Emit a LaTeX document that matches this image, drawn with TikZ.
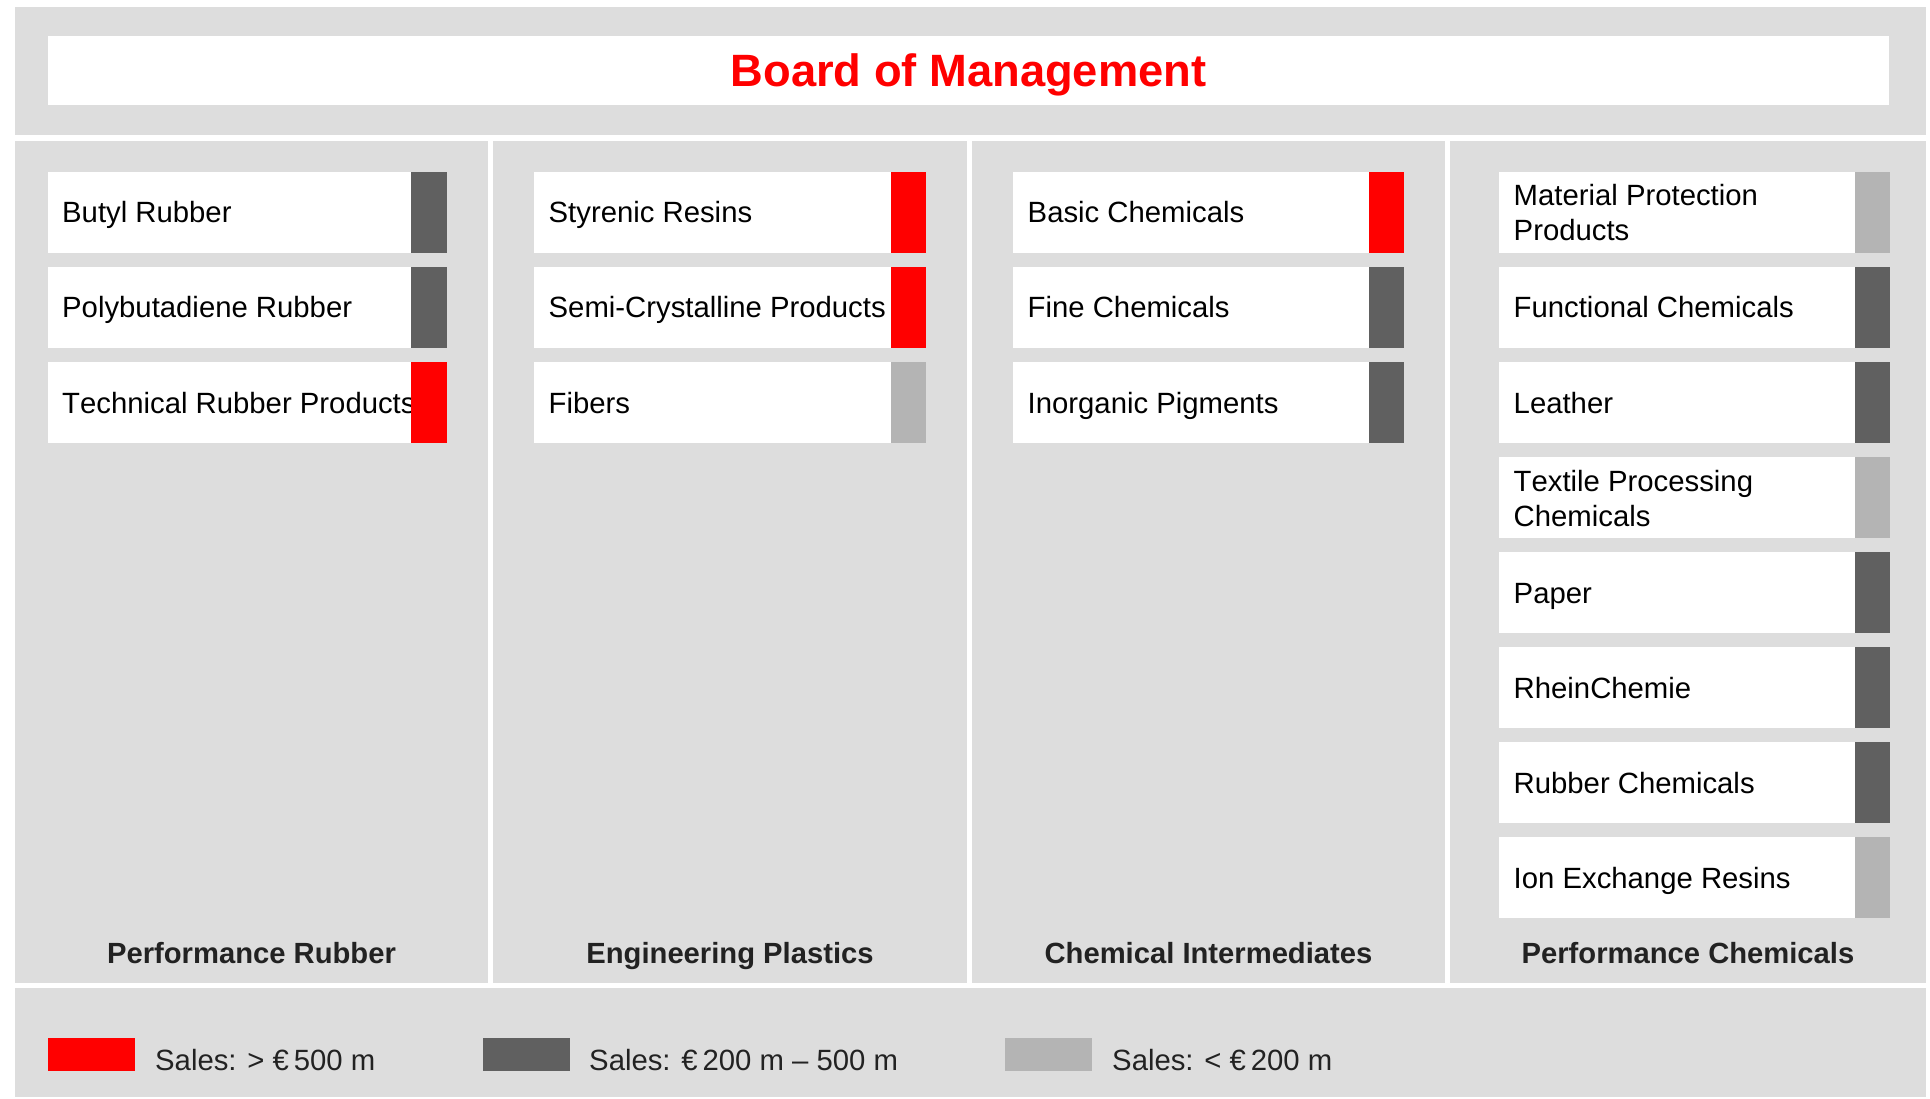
\documentclass[tikz,border=0pt]{standalone}
\usepackage{fontspec}
\setmainfont{Liberation Sans}[Kerning=Off]
\definecolor{bggray}{HTML}{DDDDDD}
\definecolor{darkbar}{HTML}{606060}
\definecolor{lightbar}{HTML}{B4B4B4}
\definecolor{brandred}{HTML}{FF0000}
\definecolor{labelgray}{HTML}{222222}
\tikzset{
  panel/.style={fill=bggray, draw=none},
  itembox/.style={rectangle, fill=white, draw=none, inner sep=0pt, minimum height=80.5pt, anchor=north west},
  salesbar/.style={rectangle, draw=none, inner sep=0pt, minimum width=35.5pt, minimum height=80.5pt, anchor=north east},
  itemtext/.style={anchor=base west, inner sep=0pt, font=\fontsize{29.3}{35}\selectfont, align=left, text=black},
  divlabel/.style={anchor=base, inner sep=0pt, font=\bfseries\fontsize{29.2}{35}\selectfont, text=labelgray},
  legbox/.style={rectangle, draw=none, inner sep=0pt, minimum width=87pt, minimum height=33pt, anchor=north west},
  legtext/.style={anchor=base west, inner sep=0pt, font=\fontsize{29.3}{35}\selectfont, text=labelgray},
}
% name, x, top, width, bar colour, baseline offset (last line), text
\newcommand\unitrow[7]{%
  \node[itembox, minimum width=#4pt] (#1) at (#2,#3) {};
  \node[itemtext] (#1t) at (#2+14.5,#3+#6) {#7};
  \node[salesbar, fill=#5] (#1b) at (#1.north east) {};
}
\begin{document}
\begin{tikzpicture}[x=1pt,y=-1pt]
\useasboundingbox[fill=white] (0,0) rectangle (1930,1099);
% panels
\fill[panel] (15,7) rectangle (1926,135);
\fill[panel] (15,141) rectangle (488,983);
\fill[panel] (493,141) rectangle (967,983);
\fill[panel] (972,141) rectangle (1445,983);
\fill[panel] (1450,141) rectangle (1926,983);
\fill[panel] (15,988) rectangle (1926,1097);
% title
\node[rectangle, fill=white, inner sep=0pt, minimum width=1841.5pt, minimum height=69pt, anchor=north west] (board) at (47.5,36) {};
\node[anchor=base, inner sep=0pt, font=\bfseries\fontsize{45.3}{54}\selectfont, text=brandred] (boardt) at (968.5,87) {Board of Management};
% column 1
\unitrow{a1}{47.5}{172}{399}{darkbar}{51}{Butyl Rubber}
\unitrow{a2}{47.5}{267}{399}{darkbar}{51}{Polybutadiene Rubber}
\unitrow{a3}{47.5}{362}{399}{brandred}{51}{Technical Rubber Products}
% column 2
\unitrow{b1}{534}{172}{392}{brandred}{51}{Styrenic Resins}
\unitrow{b2}{534}{267}{392}{brandred}{51}{Semi-Crystalline Products}
\unitrow{b3}{534}{362}{392}{lightbar}{51}{Fibers}
% column 3
\unitrow{c1}{1013}{172}{391}{brandred}{51}{Basic Chemicals}
\unitrow{c2}{1013}{267}{391}{darkbar}{51}{Fine Chemicals}
\unitrow{c3}{1013}{362}{391}{darkbar}{51}{Inorganic Pigments}
% column 4
\unitrow{d1}{1499}{172}{391}{lightbar}{69}{Material Protection\\Products}
\unitrow{d2}{1499}{267}{391}{darkbar}{51}{Functional Chemicals}
\unitrow{d3}{1499}{362}{391}{darkbar}{51}{Leather}
\unitrow{d4}{1499}{457}{391}{lightbar}{69}{Textile Processing\\Chemicals}
\unitrow{d5}{1499}{552}{391}{darkbar}{51}{Paper}
\unitrow{d6}{1499}{647}{391}{darkbar}{51}{RheinChemie}
\unitrow{d7}{1499}{742}{391}{darkbar}{51}{Rubber Chemicals}
\unitrow{d8}{1499}{837}{391}{lightbar}{51}{Ion Exchange Resins}
% division labels
\node[divlabel] (la) at (251.5,963) {Performance Rubber};
\node[divlabel] (lb) at (730,963) {Engineering Plastics};
\node[divlabel] (lc) at (1208.5,963) {Chemical Intermediates};
\node[divlabel] (ld) at (1688,963) {Performance Chemicals};
% legend
\node[legbox, fill=brandred] (k1) at (48,1038) {};
\node[legtext] (k1t) at (155,1070) {Sales: > €\,500 m};
\node[legbox, fill=darkbar] (k2) at (483,1038) {};
\node[legtext] (k2t) at (589,1070) {Sales: €\,200 m – 500 m};
\node[legbox, fill=lightbar] (k3) at (1005,1038) {};
\node[legtext] (k3t) at (1112,1070) {Sales: < €\,200 m};
\end{tikzpicture}
\end{document}
